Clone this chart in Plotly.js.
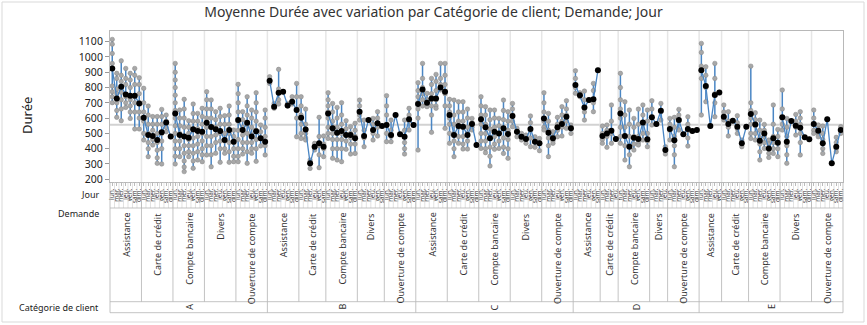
<!DOCTYPE html>
<html><head><meta charset="utf-8">
<script src="https://cdn.plot.ly/plotly-3.0.1.min.js"></script>
<style>html,body{margin:0;padding:0;background:#fff;}#chart{width:867px;height:325px;}</style>
</head><body><div id="chart"></div>
<script>
const cats = ['A','B','C','D','E'];
const demandes = ['Assistance','Carte de crédit','Compte bancaire','Divers','Ouverture de compte'];
const jours = ['lun.','mar.','mer.','jeu.','ven.','sam.','dim.'];
const grandMean = 556;

const meanA = [
  [925, 729, 805, 755, 747, 747, 696],
  [603, 490, 483, 457, 507, 572, 479],
  [631, 490, 479, 472, 527, 516, 511],
  [570, 542, 527, 516, 457, 522, 446],
  [588, 522, 570, 479, 514, 468, 446]
];
const valsA = [
  [[1115,1084,1023,958,810,773,740,701],[893,860,790,760,700,650,605],[975,880,840,770,720,660,583],[925,860,820,740,700,670],[893,850,800,720,680,640,598],[925,880,820,740,700,640,529],[864,820,760,700,640,600,529]],
  [[795,700,640,580,500,457],[679,620,560,500,440,400,348],[610,560,520,460,424],[610,560,500,440,390,340,304],[657,610,560,500,450,400,300],[620,580,540,511],[479]],
  [[958,900,850,800,750,700,650,600,550,500,450,400,350,300],[653,600,550,500,450,400,348],[723,660,600,540,480,420,370,320,280,250],[583,540,500,460,420,380,348],[692,630,580,520,470,420,370,320,272],[631,580,530,480,430,380,326],[664,610,560,500,450,400,360,315]],
  [[773,720,660,600,540,480,420,359],[719,660,600,540,480,420,360,282],[642,590,540,490,440,370],[664,610,560,500,450,400,311],[616,560,500,450,400,370],[679,620,560,500,440,380,311],[522,480,440,400,350,315]],
  [[821,760,700,640,580,520,460,400,350,315],[642,590,540,490,440,400,365],[740,680,620,560,500,440,380,304],[653,600,540,490,440,400,370],[766,700,640,580,520,460,400,317],[555,510,470,418],[653,600,540,480,420,359]]
];

const meanB = [
  [845, 675, 766, 773, 683, 707, 653],
  [603, 526, 304, 413, 435, 413],
  [631, 533, 505, 515, 489, 489, 468],
  [642, 483, 587, 522, 566, 548],
  [555, 489, 620, 494, 478, 592, 555]
];
const valsB = [
  [[871,845,827],[696,680,664],[919,790,720,692],[773],[696,683,679],[740,710,692],[827,740,660,600,478]],
  [[740,680,620,560,500,467],[659,560,500,470,457],[326,300,271],[435,413,391],[605,480,420,360,276],[483,430,400,348]],
  [[766,720,680,640,600,540,500,467],[696,640,580,540,500,460,400,337],[670,600,540,500,460,400,326],[701,620,560,500,460,400,315],[583,530,490,450,396],[544,500,470,430,365],[566,520,480,430,369]],
  [[718,680,620,587],[587,520,470,413],[587],[598,560,500,457],[642,600,540,483],[548]],
  [[747,680,620,560,500,446],[587,520,480,446],[620],[494],[587,520,480,440,400,365],[664,620,580,522],[555]]
];

const meanC = [
  [692, 788, 701, 729, 729, 801, 773],
  [620, 489, 548, 544, 489, 561, 424],
  [592, 540, 468, 511, 500, 533, 496],
  [614, 511, 478, 463, 529, 446, 435],
  [598, 505, 468, 540, 561, 609, 533]
];
const valsC = [
  [[832,780,740,700,660,600,391],[958,860,800,760,720,679],[762,720,690,675],[860,820,760,720,680,620,507],[886,840,780,720,680,664],[958,860,820,800,784],[958,880,820,760,680,533]],
  [[723,680,640,600,560,500,435],[718,620,560,500,450,400,348],[707,640,580,540,480,435],[707,640,580,540,480,430,398],[659,600,540,500,450,398],[598,570,540,522],[424]],
  [[740,680,620,560,500,450,402],[675,620,560,500,450,400,374],[653,590,530,470,410,350,287],[653,600,540,480,430,396],[598,550,500,450,402],[718,650,590,530,470,410,369],[642,580,520,460,400,337]],
  [[696,660,620,580,544],[533,510,478],[500,478,457],[489,463,435],[614,570,520,470,413],[478,446,409],[467,435,387]],
  [[766,700,640,580,540,522],[631,580,520,470,420,348],[511,480,450,435],[605,560,520,478],[675,620,580,540,483],[714,660,620,580,533],[555,530,500]]
];

const meanD = [
  [816, 749, 670, 718, 723, 914],
  [483, 500, 518, 463],
  [631, 483, 413, 472, 463, 572, 461],
  [605, 561, 648, 391],
  [528, 455, 587, 494, 529, 515, 522]
];
const valsD = [
  [[910,860,800,762],[766,749,740],[777,720,640,587],[718],[827,780,700,642],[914]],
  [[548,500,460,435],[555,520,480,409],[686,580,500,435],[463]],
  [[893,800,720,660,600,540,480,435],[707,620,540,480,420,326],[653,560,480,420,360,282],[598,540,480,430,391],[659,560,480,440,424],[686,620,560,500,457],[653,580,500,450,413]],
  [[714,660,600,555],[561],[696,640,587],[413,391,365]],
  [[598,560,520,457],[605,540,480,420,360,282],[657,620,580,522],[494],[609,560,520,470,417],[515],[522]]
];

const meanE = [
  [914, 810, 548, 751, 768],
  [609, 561, 583, 544, 435, 544],
  [627, 559, 452, 500, 402, 468, 439],
  [605, 446, 581, 550, 537, 474, 461],
  [561, 518, 435, 592, 304, 413, 522]
];
const valsE = [
  [[1089,1030,940,860,620],[936,880,800,707],[548],[958,860,760,700,609],[768]],
  [[686,640,600,587],[642,580,540,483],[583],[616,570,530,500],[457,435,413],[544]],
  [[940,700,650,600,560,500,467],[635,590,550,500,457],[587,520,470,430,380,326],[559,520,480,440,402],[457,430,400,370,343],[686,560,480,440,400,369],[526,480,440,400,348]],
  [[784,660,600,560,522],[598,540,480,420,360,304],[581],[624,580,540,489],[642,600,560,500,440,359],[474],[461]],
  [[653,600,560,520,500],[555,530,500,478],[548,500,460,400,369],[592],[304],[474,440,400,380],[544,520,500]]
];

const allMeans = [meanA, meanB, meanC, meanD, meanE];
const allVals = [valsA, valsB, valsC, valsD, valsE];

let idx = 0;
const tickvals = [], ticktext = [];
const rX = [], rY = [], dX = [], dY = [], lX = [], lY = [];
const groups = [], catGroups = [];
cats.forEach((c, ci) => {
  const cs = idx;
  demandes.forEach((d, di) => {
    const gs = idx;
    const m = allMeans[ci][di], v = allVals[ci][di];
    m.forEach((mv, i) => {
      const x = idx;
      tickvals.push(x); ticktext.push(jours[i]);
      const vv = v[i];
      if (vv.length > 1) { rX.push(x, x, null); rY.push(Math.min(...vv), Math.max(...vv), null); }
      vv.forEach(y => { dX.push(x); dY.push(y); });
      lX.push(x); lY.push(mv);
      idx++;
    });
    lX.push(null); lY.push(null);
    groups.push({s: gs - 0.5, e: idx - 0.5, label: d});
  });
  catGroups.push({s: cs - 0.5, e: idx - 0.5, label: c});
});
const N = idx;

const blue = '#4a86c4';
const traces = [
  {x: rX, y: rY, mode: 'lines', line: {color: blue, width: 1.5}, hoverinfo: 'skip'},
  {x: dX, y: dY, mode: 'markers', marker: {size: 4.5, color: '#a8a8a8', line: {color: '#858585', width: 0.5}}, hoverinfo: 'skip'},
  {x: lX, y: lY, mode: 'lines', line: {color: blue, width: 1.3}, connectgaps: false, hoverinfo: 'skip'},
  {x: lX, y: lY, mode: 'markers', marker: {size: 6, color: '#000000'}, hoverinfo: 'skip'}
];

const PH = 151;
const py = (Y) => (182 - Y) / PH;
const jourBottom = py(208), demBottom = py(301.7), catBottom = py(312.7);
const shapes = [];
shapes.push({type: 'line', xref: 'paper', yref: 'y', x0: 0, x1: 1, y0: grandMean, y1: grandMean, line: {color: '#d2d2d2', width: 2}, layer: 'below'});
for (let i = 0; i < N - 1; i++) {
  shapes.push({type: 'line', xref: 'x', yref: 'paper', x0: i + 0.5, x1: i + 0.5, y0: 0, y1: jourBottom, line: {color: '#cfcfcf', width: 0.6}});
}
groups.forEach((g, k) => {
  if (k > 0) {
    shapes.push({type: 'line', xref: 'x', yref: 'paper', x0: g.s, x1: g.s, y0: 0, y1: 1, line: {color: '#e6e6e6', width: 1.5}, layer: 'below'});
    shapes.push({type: 'line', xref: 'x', yref: 'paper', x0: g.s, x1: g.s, y0: 0, y1: demBottom, line: {color: '#b4b4b4', width: 0.8}});
  }
});
catGroups.forEach((g, k) => {
  if (k > 0) shapes.push({type: 'line', xref: 'x', yref: 'paper', x0: g.s, x1: g.s, y0: demBottom, y1: catBottom, line: {color: '#b4b4b4', width: 0.8}});
});
[jourBottom, demBottom, catBottom].forEach(yy => {
  shapes.push({type: 'line', xref: 'paper', yref: 'paper', x0: 0, x1: 1, y0: yy, y1: yy, line: {color: '#b4b4b4', width: 0.8}});
});
shapes.push({type: 'line', xref: 'paper', yref: 'paper', x0: 0, x1: 0, y0: 0, y1: catBottom, line: {color: '#b4b4b4', width: 0.8}});
shapes.push({type: 'line', xref: 'paper', yref: 'paper', x0: 1, x1: 1, y0: 0, y1: catBottom, line: {color: '#b4b4b4', width: 0.8}});
const PW = 733;
shapes.push({type: 'rect', xref: 'paper', yref: 'paper', x0: (2 - 110) / PW, x1: (864 - 110) / PW, y0: py(322), y1: py(2), line: {color: '#d9d9d9', width: 1}});

const font = 'Noto Sans, Open Sans, sans-serif';
const annotations = [];
groups.forEach(g => {
  annotations.push({xref: 'x', yref: 'paper', x: (g.s + g.e) / 2, y: py(211), text: g.label, textangle: -90, showarrow: false, xanchor: 'center', yanchor: 'top', font: {size: 9, color: '#333', family: font}});
});
catGroups.forEach(g => {
  annotations.push({xref: 'x', yref: 'paper', x: (g.s + g.e) / 2, y: py(307), text: g.label, textangle: -90, showarrow: false, xanchor: 'center', yanchor: 'middle', font: {size: 9, color: '#333', family: font}});
});
[['Jour', 194], ['Demande', 213], ['Catégorie de client', 307]].forEach(([t, Y]) => {
  annotations.push({xref: 'paper', yref: 'paper', x: (101 - 110) / PW, y: py(Y), text: t, showarrow: false, xanchor: 'right', yanchor: 'middle', font: {size: 9, color: '#222', family: font}});
});
annotations.push({xref: 'paper', yref: 'paper', x: (27 - 110) / PW, y: py(116), text: 'Durée', textangle: -90, showarrow: false, xanchor: 'center', yanchor: 'middle', font: {size: 13, color: '#222', family: font}});

const layout = {
  width: 867, height: 325,
  margin: {l: 110, r: 24, t: 31, b: 143},
  paper_bgcolor: '#ffffff', plot_bgcolor: '#ffffff',
  showlegend: false,
  hovermode: false,
  font: {family: font, color: '#222'},
  title: {text: 'Moyenne Durée avec variation par Catégorie de client; Demande; Jour', x: 0.5, xref: 'container', xanchor: 'center', y: 1, yref: 'container', yanchor: 'top', pad: {t: 7}, font: {size: 14, color: '#333', family: font}},
  xaxis: {range: [-0.5, N - 0.5], tickmode: 'array', tickvals: tickvals, ticktext: ticktext, tickangle: -90, tickfont: {size: 6.5, color: '#333'}, ticks: 'outside', ticklen: 3, tickcolor: '#bbb', showgrid: false, zeroline: false, showline: true, mirror: true, linecolor: '#b8b8b8', linewidth: 1, fixedrange: true},
  yaxis: {range: [182, 1170], tick0: 0, dtick: 100, tickfont: {size: 10.5, color: '#222'}, ticks: 'outside', ticklen: 4, tickcolor: '#999', showgrid: false, zeroline: false, showline: true, mirror: true, linecolor: '#b8b8b8', linewidth: 1, fixedrange: true},
  shapes: shapes,
  annotations: annotations
};
Plotly.newPlot('chart', traces, layout, {displayModeBar: false, staticPlot: true});
</script>
</body></html>
